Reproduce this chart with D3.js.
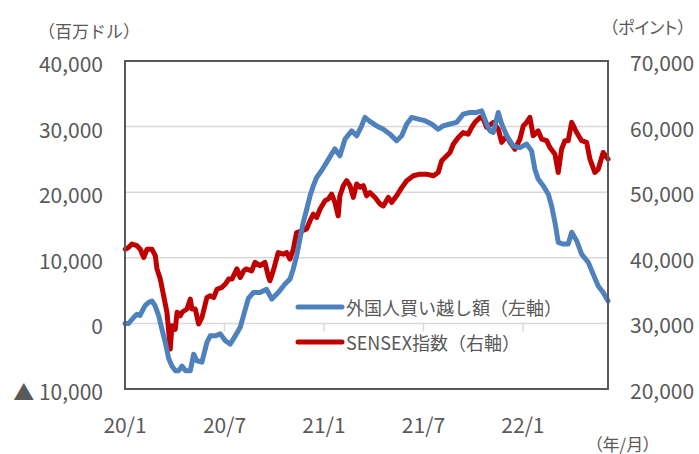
<!DOCTYPE html>
<html>
<head>
<meta charset="utf-8">
<script src="https://cdn.jsdelivr.net/npm/d3@7"></script>
<style>
  body { margin: 0; background: #fff; }
  text { font-family: "Noto Sans CJK JP", "Noto Sans", sans-serif; fill: #595959; }
  .palt { font-feature-settings: "palt"; }
</style>
</head>
<body>
<div id="chart"></div>
<script>
// ---- data (t = months since 2020/1)
var flowData = [
  [0,0],[0.22,0],[0.52,900],[0.72,1400],[0.90,1200],[1.21,2700],[1.43,3200],[1.63,3400],
  [1.81,2700],[2.03,1200],[2.23,-900],[2.43,-2900],[2.64,-5400],[2.83,-6500],[3.03,-7200],
  [3.24,-7200],[3.44,-6500],[3.64,-7200],[3.94,-7200],[4.14,-4700],[4.34,-5700],[4.64,-5900],
  [4.94,-2900],[5.14,-1900],[5.45,-1900],[5.75,-1600],[6.05,-2650],[6.35,-3150],[6.65,-1900],
  [6.95,-600],[7.18,1500],[7.44,3800],[7.74,4700],[8.14,4700],[8.54,5200],[8.85,3700],
  [9.24,4700],[9.65,6000],[9.95,6750],[10.15,8300],[10.35,10300],[10.55,12850],[10.75,15400],
  [10.96,17400],[11.16,19450],[11.36,21000],[11.56,22250],[11.86,23300],[12.16,24550],
  [12.46,25800],[12.66,26600],[12.96,25550],[13.27,28100],[13.67,29350],[13.97,28600],
  [14.27,30100],[14.47,31400],[14.77,30800],[15.18,30100],[15.58,29600],[15.98,28850],
  [16.38,27850],[16.69,28600],[16.99,30400],[17.29,31400],[17.69,31150],[18.09,30900],
  [18.49,30400],[18.89,29600],[19.19,30100],[19.60,30400],[20.00,30650],[20.40,31900],
  [20.80,32150],[21.21,32150],[21.51,32400],[21.81,30400],[22.01,29350],[22.21,29100],
  [22.51,32150],[22.72,30400],[23.02,28600],[23.42,27050],[23.82,26800],[24.22,27350],
  [24.52,26300],[24.72,23500],[24.92,22000],[25.22,21000],[25.53,19700],[25.73,17900],
  [25.93,15400],[26.13,12350],[26.43,12100],[26.73,12100],[26.94,13900],[27.24,12600],
  [27.54,10550],[27.94,9300],[28.24,7500],[28.54,5700],[28.84,4700],[29.13,3400]
];

var sensexData = [
  [0.02,41300],[0.22,41600],[0.42,42100],[0.72,41850],[0.92,41300],[1.13,40050],[1.33,41300],
  [1.63,41300],[1.83,40300],[1.93,38300],[2.13,36750],[2.33,34200],[2.53,31700],[2.64,28650],
  [2.73,26100],[2.83,29650],[3.03,29100],[3.14,31700],[3.33,31150],[3.44,31700],[3.74,32200],
  [3.94,33700],[4.03,32200],[4.24,32200],[4.44,29900],[4.64,30900],[4.94,33950],[5.14,34200],
  [5.35,33950],[5.55,35200],[5.85,35500],[6.05,36000],[6.25,36750],[6.45,36750],[6.75,38300],
  [6.95,37000],[7.16,38000],[7.30,38300],[7.64,38000],[7.84,39300],[8.14,38800],[8.44,39300],
  [8.64,37250],[8.74,36500],[8.94,38000],[9.24,40800],[9.55,40550],[9.75,40800],[9.95,39800],
  [10.15,41300],[10.35,43850],[10.66,44100],[10.96,44400],[11.16,45650],[11.36,46650],
  [11.56,46150],[11.76,47400],[12.06,48700],[12.26,48950],[12.46,49700],[12.66,48450],
  [12.86,46400],[12.96,49450],[13.17,51000],[13.37,51750],[13.57,51000],[13.77,49200],
  [13.97,51250],[14.17,50750],[14.37,51000],[14.57,49450],[14.77,49950],[15.08,49200],
  [15.38,48200],[15.58,47900],[15.88,49200],[16.08,48450],[16.38,49450],[16.69,50700],
  [16.99,51750],[17.39,52500],[17.79,52750],[18.19,52750],[18.59,52500],[18.89,53000],
  [19.10,54800],[19.30,55300],[19.60,56050],[19.80,57300],[20.10,58350],[20.40,59100],
  [20.70,58850],[20.91,59900],[21.11,60650],[21.41,61400],[21.61,61150],[21.81,59900],
  [22.01,60250],[22.21,60650],[22.51,59600],[22.72,57600],[23.02,58600],[23.22,57600],
  [23.52,56550],[23.82,58100],[24.02,60100],[24.22,60650],[24.42,61400],[24.62,58600],
  [24.92,59350],[25.13,58100],[25.43,57850],[25.63,56800],[25.93,55800],[26.13,53000],
  [26.33,56550],[26.53,57850],[26.73,57850],[26.94,60650],[27.24,59100],[27.54,57850],
  [27.84,57600],[28.04,55050],[28.34,53000],[28.54,53500],[28.84,56050],[29.13,55050]
];

var leftTicks = [-10000, 0, 10000, 20000, 30000, 40000];
var leftTickLabels = ["▲ 10,000", "0", "10,000", "20,000", "30,000", "40,000"];
var rightTicks = [20000, 30000, 40000, 50000, 60000, 70000];
var rightTickLabels = ["20,000", "30,000", "40,000", "50,000", "60,000", "70,000"];
var xTicks = [0, 6, 12, 18, 24];
var xTickLabels = ["20/1", "20/7", "21/1", "21/7", "22/1"];
var seriesNames = ["外国人買い越し額（左軸）", "SENSEX指数（右軸）"];
var seriesColors = ["#4f81bd", "#c00000"];

// ---- layout
var W = 699, H = 454;
var plot = {left: 125, right: 608, top: 61, bottom: 389};

var svg = d3.select("#chart")
  .append("svg")
    .attr("width", W)
    .attr("height", H);

const xScale = d3.scaleLinear().domain([0, 29.13]).range([plot.left, plot.right]);
const yLeft = d3.scaleLinear().domain([-10000, 40000]).range([plot.bottom, plot.top]);
const yRight = d3.scaleLinear().domain([20000, 70000]).range([plot.bottom, plot.top]);

// gridlines
svg.append("g")
  .selectAll("line")
  .data(leftTicks.filter(d => d > -10000 && d < 40000))
  .join("line")
    .attr("x1", plot.left).attr("x2", plot.right)
    .attr("y1", d => yLeft(d)).attr("y2", d => yLeft(d))
    .attr("stroke", "#d9d9d9")
    .attr("stroke-width", 1.5);

// small tick marks hanging off the zero line
svg.append("g")
  .selectAll("line")
  .data(xTicks.slice(1))
  .join("line")
    .attr("x1", d => xScale(d)).attr("x2", d => xScale(d))
    .attr("y1", yLeft(0)).attr("y2", yLeft(0) + 8)
    .attr("stroke", "#d9d9d9")
    .attr("stroke-width", 1.5);

// series
const flowLine = d3.line()
  .x(d => xScale(d[0]))
  .y(d => yLeft(d[1]));
const sensexLine = d3.line()
  .x(d => xScale(d[0]))
  .y(d => yRight(d[1]));

svg.append("path")
  .datum(sensexData)
  .attr("d", sensexLine)
  .attr("fill", "none")
  .attr("stroke", seriesColors[1])
  .attr("stroke-width", 5)
  .attr("stroke-linejoin", "round")
  .attr("stroke-linecap", "round");

svg.append("path")
  .datum(flowData)
  .attr("d", flowLine)
  .attr("fill", "none")
  .attr("stroke", seriesColors[0])
  .attr("stroke-width", 5)
  .attr("stroke-linejoin", "round")
  .attr("stroke-linecap", "round");

// plot border
svg.append("rect")
  .attr("x", plot.left).attr("y", plot.top)
  .attr("width", plot.right - plot.left)
  .attr("height", plot.bottom - plot.top)
  .attr("fill", "none")
  .attr("stroke", "#595959")
  .attr("stroke-width", 2);

// axis labels
svg.append("g")
  .selectAll("text")
  .data(leftTicks)
  .join("text")
    .attr("x", 103)
    .attr("y", d => yLeft(d) + 2)
    .attr("text-anchor", "end")
    .attr("dominant-baseline", "central")
    .attr("font-size", 21)
    .text((d, i) => leftTickLabels[i]);

svg.append("g")
  .selectAll("text")
  .data(rightTicks)
  .join("text")
    .attr("x", 630)
    .attr("y", d => yRight(d) + 1)
    .attr("dominant-baseline", "central")
    .attr("font-size", 21)
    .text((d, i) => rightTickLabels[i]);

svg.append("g")
  .selectAll("text")
  .data(xTicks)
  .join("text")
    .attr("x", d => xScale(d))
    .attr("y", 424)
    .attr("text-anchor", "middle")
    .attr("dominant-baseline", "central")
    .attr("font-size", 21)
    .text((d, i) => xTickLabels[i]);

// unit titles
svg.append("text").attr("x", 38).attr("y", 30)
  .attr("dominant-baseline", "central").attr("font-size", 17).text("（百万ドル）");
svg.append("text").attr("class", "palt").attr("x", 686).attr("y", 26)
  .attr("text-anchor", "end")
  .attr("dominant-baseline", "central").attr("font-size", 17).text("（ポイント）");
svg.append("text").attr("class", "palt").attr("x", 594).attr("y", 443)
  .attr("dominant-baseline", "central").attr("font-size", 17).text("（年/月）");

// legend
var legend = svg.append("g")
  .selectAll("g")
  .data(seriesNames)
  .join("g")
    .attr("transform", (d, i) => "translate(298," + (307 + i * 35) + ")");
legend.append("line")
  .attr("x1", 0).attr("x2", 44)
  .attr("stroke", (d, i) => seriesColors[i])
  .attr("stroke-width", 5)
  .attr("stroke-linecap", "round");
legend.append("text")
  .attr("x", 48)
  .attr("dominant-baseline", "central")
  .attr("font-size", 18)
  .text(d => d);
</script>
</body>
</html>
